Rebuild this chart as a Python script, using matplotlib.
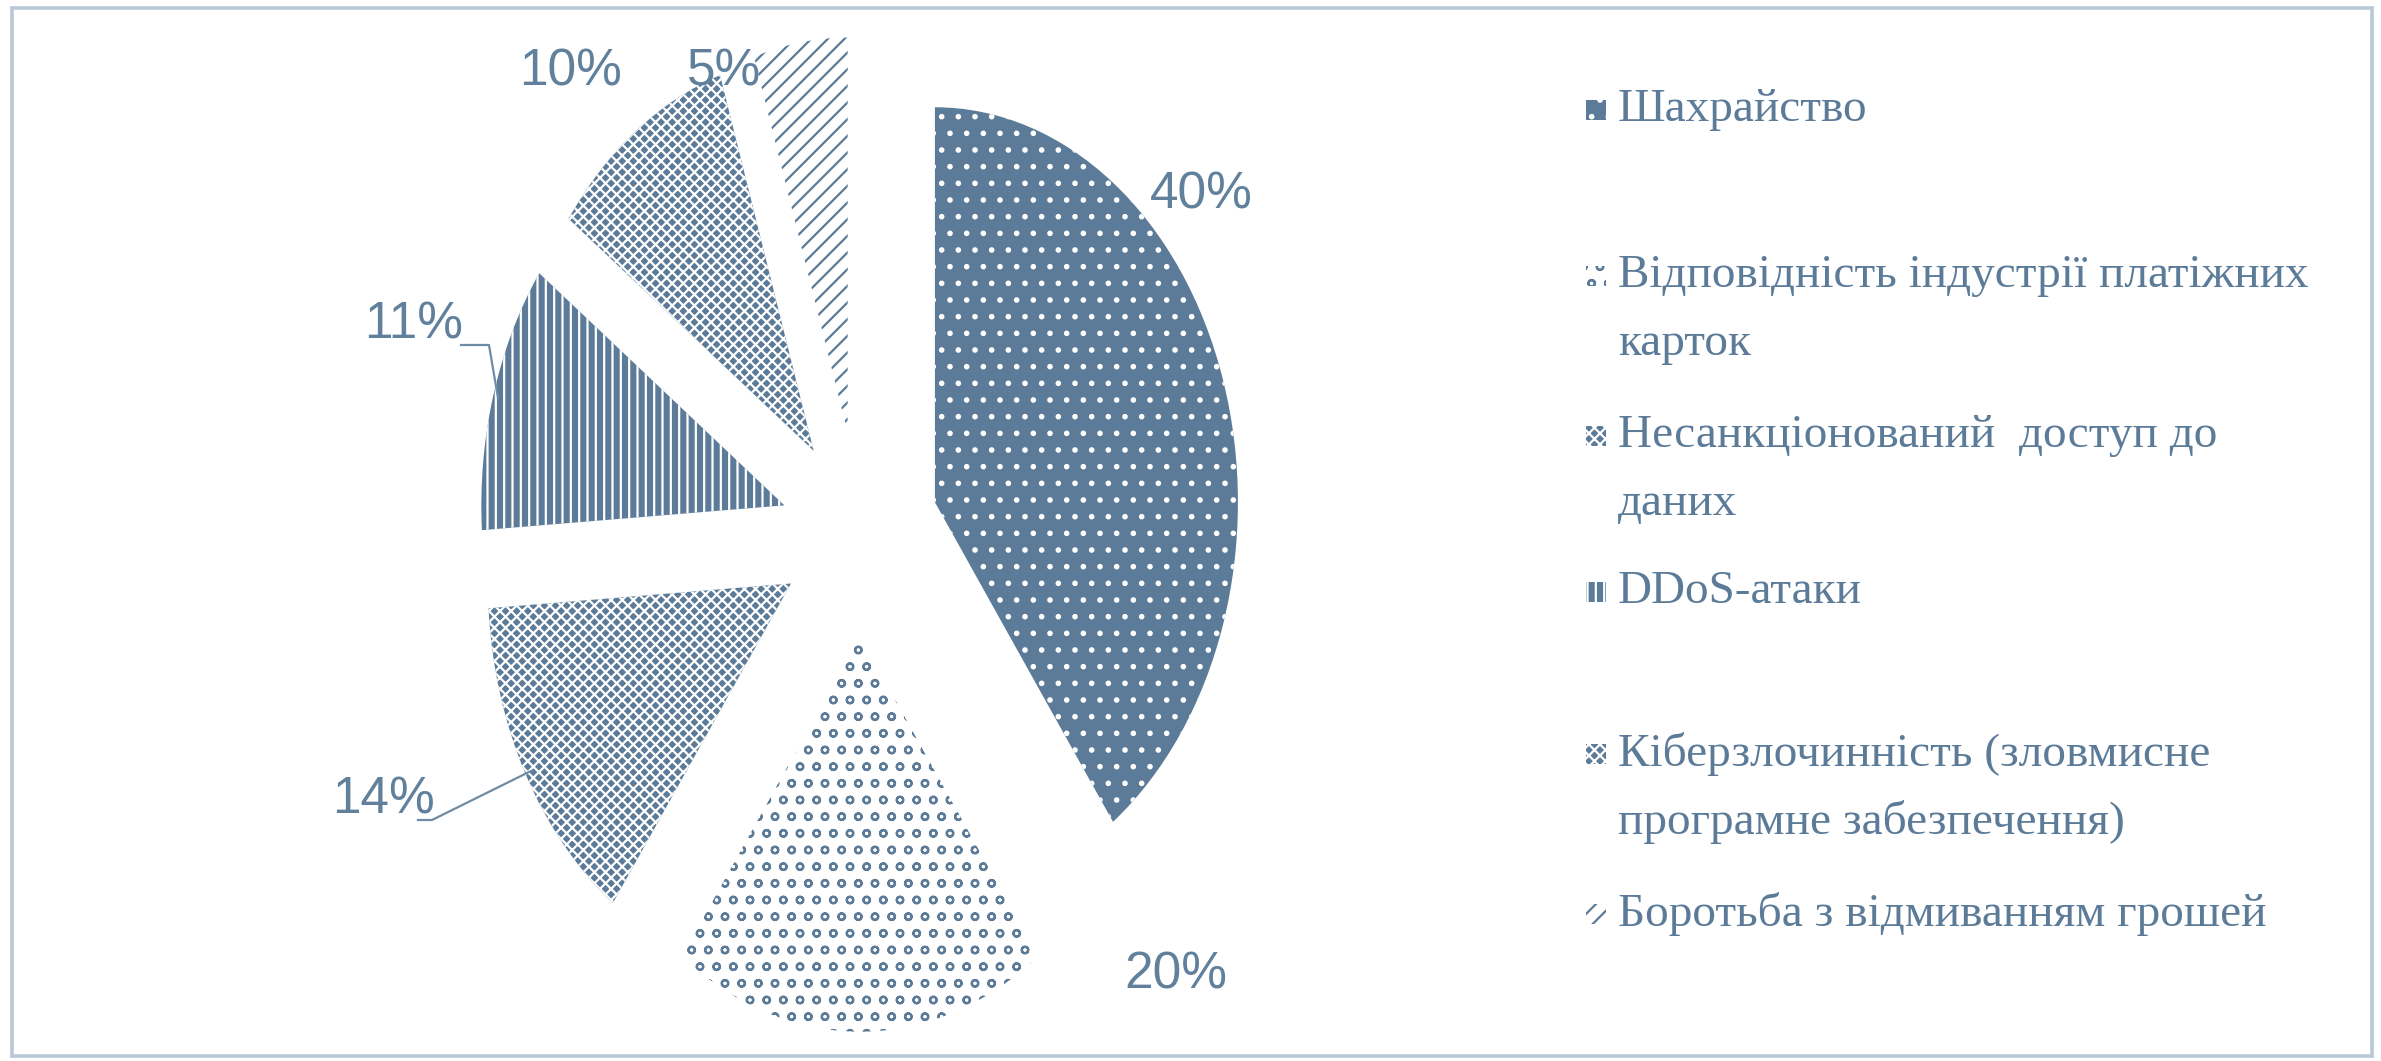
import matplotlib
matplotlib.use('Agg')
import matplotlib.pyplot as plt
from matplotlib.patches import Rectangle
from matplotlib.lines import Line2D

######################### data #########################
categories = [
    'Шахрайство',
    'Відповідність індустрії платіжних\nкарток',
    'Несанкціонований  доступ до\nданих',
    'DDoS-атаки',
    'Кіберзлочинність (зловмисне\nпрограмне забезпечення)',
    'Боротьба з відмиванням грошей',
]
shares = [40, 20, 14, 11, 10, 5]

######################### layout / style #########################
W, H = 2381, 1061
BLUE = '#5b7b98'
FRAME = '#b7c8d6'

# face colour, hatch colour, hatch pattern for every slice
styles = [
    (BLUE, 'white', '.'),
    ('white', BLUE, 'o'),
    (BLUE, 'white', 'xxx'),
    (BLUE, 'white', '||'),
    (BLUE, 'white', 'xxx'),
    ('white', BLUE, '//'),
]

# percent label centres in pixels (x, y from top)
label_pos = [(1201, 195), (1176, 975), (384, 800), (414, 325), (571, 72), (724, 72)]
# leader lines (pixels) for the labels that have one
leaders = {2: [(418, 820), (432, 820), (531, 771)],
           3: [(461, 345), (489, 345), (498, 398)]}
# legend rows: y of first text line (pixels)
legend_y = [110, 276, 436, 592, 754, 914]
line_gap = 68

plt.rcParams['hatch.linewidth'] = 1.6

fig = plt.figure(figsize=(W / 100, H / 100), dpi=100)
fig.patch.set_facecolor('white')


def fx(px):
    return px / W


def fy(py):
    return 1 - py / H


# pie drawn on axes filling the figure; ellipse via unequal scales
ax = fig.add_axes([0, 0, 1, 1])
wedges, _ = ax.pie(shares, startangle=90, counterclock=False,
                   explode=[0.26] * len(shares), radius=1.0,
                   wedgeprops=dict(linewidth=0))
for w, (face, hcol, hatch) in zip(wedges, styles):
    w.set_facecolor(face)
    w.set_edgecolor(hcol)
    w.set_hatch(hatch)
    w.set_linewidth(0)

cx, cy, rx, ry = 860, 534, 303, 395
ax.set_aspect('auto')
ax.set_xlim(-cx / rx, (W - cx) / rx)
ax.set_ylim(-(H - cy) / ry, cy / ry)
ax.axis('off')

# percent labels
pct_font = ['Liberation Sans Narrow', 'Liberation Sans', 'DejaVu Sans']
for i, v in enumerate(shares):
    x, y = label_pos[i]
    fig.text(fx(x), fy(y), f'{v}%', ha='center', va='center',
             fontsize=37, color='#60809c', family=pct_font)

for i, pts in leaders.items():
    fig.add_artist(Line2D([fx(p[0]) for p in pts], [fy(p[1]) for p in pts],
                          transform=fig.transFigure, color='#6f8ca6', lw=1.6))

# legend drawn by hand
serif = ['Liberation Serif', 'DejaVu Serif']
for i, name in enumerate(categories):
    face, hcol, hatch = styles[i]
    y0 = legend_y[i]
    fig.add_artist(Rectangle((fx(1586), fy(y0 + 10)), 20 / W, 20 / H,
                             transform=fig.transFigure, facecolor=face,
                             edgecolor=hcol, hatch=hatch, linewidth=0))
    for j, line in enumerate(name.split('\n')):
        fig.text(fx(1618), fy(y0 + j * line_gap), line, ha='left',
                 va='center', fontsize=34, color=BLUE, family=serif)

# outer frame
fig.add_artist(Rectangle((fx(11.5), fy(1056)), (2371.5 - 11.5) / W, (1056 - 7.5) / H,
                         transform=fig.transFigure, fill=False,
                         edgecolor=FRAME, linewidth=2.6))

fig.savefig('out.png', dpi=100, facecolor='white')
